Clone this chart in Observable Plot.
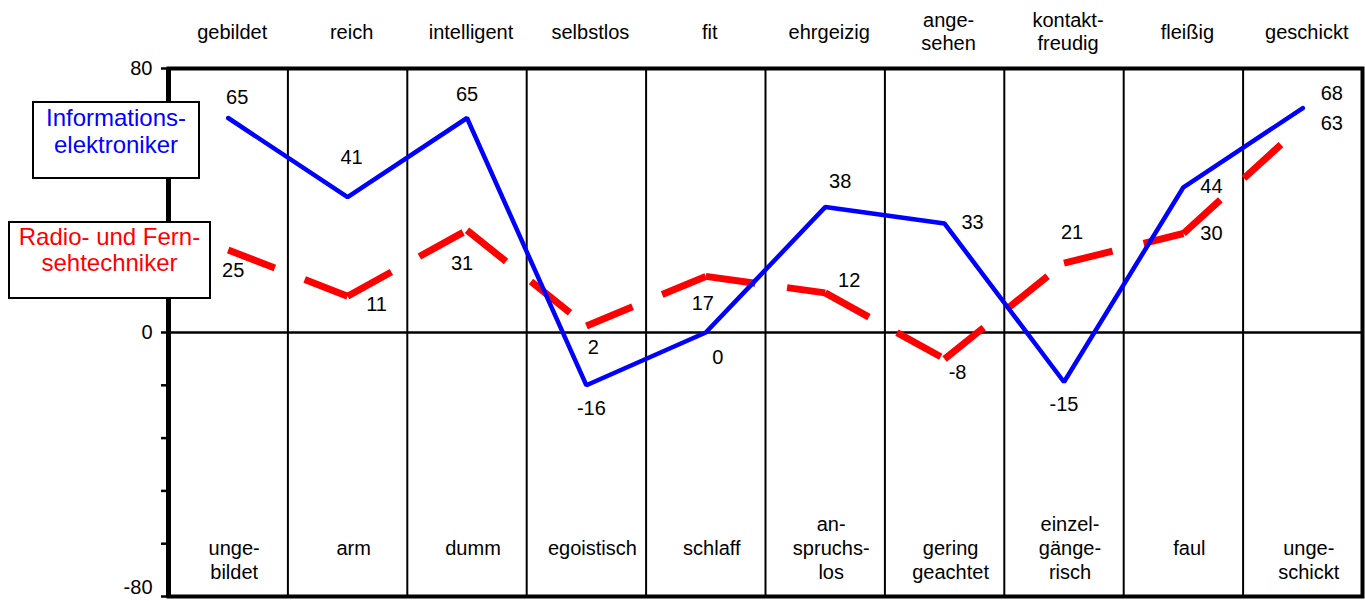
<!DOCTYPE html>
<html>
<head>
<meta charset="utf-8">
<script src="https://cdn.jsdelivr.net/npm/d3@7"></script>
<script src="https://cdn.jsdelivr.net/npm/@observablehq/plot@0.6"></script>
<style>
  html, body { margin: 0; padding: 0; background: #fff; overflow: hidden; }
  #wrap { position: relative; width: 1365px; height: 601px; }
  .legend { position: absolute; box-sizing: border-box; border: 2px solid #000; background: #fff;
            font-family: "Liberation Sans", Arial, sans-serif; font-size: 24px; text-align: center; }
</style>
</head>
<body>
<div id="wrap"></div>
<script>
// ---- data ----
const topLabels = ["gebildet", "reich", "intelligent", "selbstlos", "fit", "ehrgeizig", "ange-\nsehen", "kontakt-\nfreudig", "fleißig", "geschickt"];
const bottomLabels = ["unge-\nbildet", "arm", "dumm", "egoistisch", "schlaff", "an-\nspruchs-\nlos", "gering\ngeachtet", "einzel-\ngänge-\nrisch", "faul", "unge-\nschickt"];
const seriesNames = ["Informations-\nelektroniker", "Radio- und Fern-\nsehtechniker"];
const infoValues = [65, 41, 65, -16, 0, 38, 33, -15, 44, 68];
const radioValues = [25, 11, 31, 2, 17, 12, -8, 21, 30, 63];
const yTicks = [-80, -64, -48, -32, -16, 0, 16, 32, 48, 64, 80];
const yTickLabels = [80, 0, -80];

// ---- label placement (px offsets, layout only) ----
const infoLabelOffsets = [[9, -20], [4, -40], [0, -23], [5, 23], [12, 25], [15, -26], [28, -1], [0, 23], [28, -1], [29, -15]];
const radioLabelOffsets = [[5, 21], [29, 8], [-5, 33], [7, 22], [-3, 27], [24, -12], [13, 14], [8, -31], [28, 0], [29, -1]];

const font = "Liberation Sans, Arial, sans-serif";
const cats = topLabels.map((t, i) => ({i, top: t, bottom: bottomLabels[i], lines: bottomLabels[i].split("\n").length}));
const info = infoValues.map((v, i) => ({i, v, dx: infoLabelOffsets[i][0], dy: infoLabelOffsets[i][1]}));
const radio = radioValues.map((v, i) => ({i, v, dx: radioLabelOffsets[i][0], dy: radioLabelOffsets[i][1]}));
const radioSegs = d3.pairs(radio).map(([a, b]) => ({x1: a.i + 0.5, y1: a.v, x2: b.i + 0.5, y2: b.v}));
const yMin = d3.min(yTickLabels);

function labelMarks(data) {
  // each label has its own offset: draw one text mark per point
  return data.map(d => Plot.text([d], {
    x: p => p.i + 0.5, y: p => p.v, text: p => String(p.v),
    dx: d.dx, dy: d.dy, fontSize: 20, fill: "black"
  }));
}

const chart = Plot.plot({
  width: 1365,
  height: 601,
  marginLeft: 168,
  marginRight: 3,
  marginTop: 68,
  marginBottom: 5,
  style: {fontFamily: font, fontSize: "20px", background: "white", color: "black"},
  x: {type: "linear", domain: [0, 10], axis: null},
  y: {type: "linear", domain: [-80, 80], axis: null},
  marks: [
    Plot.ruleX(d3.range(1, 10), {stroke: "black", strokeWidth: 2}),
    Plot.ruleY([0], {stroke: "black", strokeWidth: 2.5}),
    Plot.frame({stroke: "black", strokeWidth: 4}),
    Plot.ruleX([0], {stroke: "black", strokeWidth: 5}),
    Plot.axisY({
      ticks: yTicks, tickSize: 7, tickPadding: 9, strokeWidth: 2.5,
      tickFormat: d => (yTickLabels.includes(d) && d !== yMin) ? String(d) : "",
      fontSize: 20, label: null
    }),
    // bottom tick label nudged up so it stays inside the picture
    Plot.text([yMin], {y: d => d, text: d => String(d), frameAnchor: "left", dx: -16, dy: -9,
      textAnchor: "end", fontSize: 20}),
    Plot.text(cats, {x: d => d.i + 0.5, frameAnchor: "top", dy: -37, dx: 4, text: "top",
      lineAnchor: "middle", lineHeight: 1.15, fontSize: 20}),
    Plot.text(cats.filter(d => d.lines !== 2), {x: d => d.i + 0.5, frameAnchor: "bottom", dy: -49, dx: 6,
      text: "bottom", lineAnchor: "middle", lineHeight: 1.2, fontSize: 20}),
    Plot.text(cats.filter(d => d.lines === 2), {x: d => d.i + 0.5, frameAnchor: "bottom", dy: -37, dx: 6,
      text: "bottom", lineAnchor: "middle", lineHeight: 1.2, fontSize: 20}),
    Plot.link(radioSegs, {x1: "x1", y1: "y1", x2: "x2", y2: "y2", stroke: "#ff0000", strokeWidth: 7,
      strokeDasharray: "50,32", strokeLinecap: "butt"}),
    Plot.line(info, {x: d => d.i + 0.5, y: "v", stroke: "#0000ff", strokeWidth: 4.5, strokeLinejoin: "miter"}),
    ...labelMarks(info),
    ...labelMarks(radio)
  ]
});

const wrap = document.getElementById("wrap");
wrap.appendChild(chart);

// legend boxes (overlay at left)
const legendSpecs = [
  {name: seriesNames[0], color: "#0000ff", left: 32, top: 101, width: 168, height: 78, lh: 27},
  {name: seriesNames[1], color: "#ff0000", left: 8, top: 221, width: 203, height: 78, lh: 26}
];
for (const s of legendSpecs) {
  const div = document.createElement("div");
  div.className = "legend";
  Object.assign(div.style, {left: s.left + "px", top: s.top + "px", width: s.width + "px",
    height: s.height + "px", color: s.color, lineHeight: s.lh + "px", paddingTop: "1px"});
  div.innerHTML = s.name.split("\n").join("<br>");
  wrap.appendChild(div);
}
</script>
</body>
</html>
